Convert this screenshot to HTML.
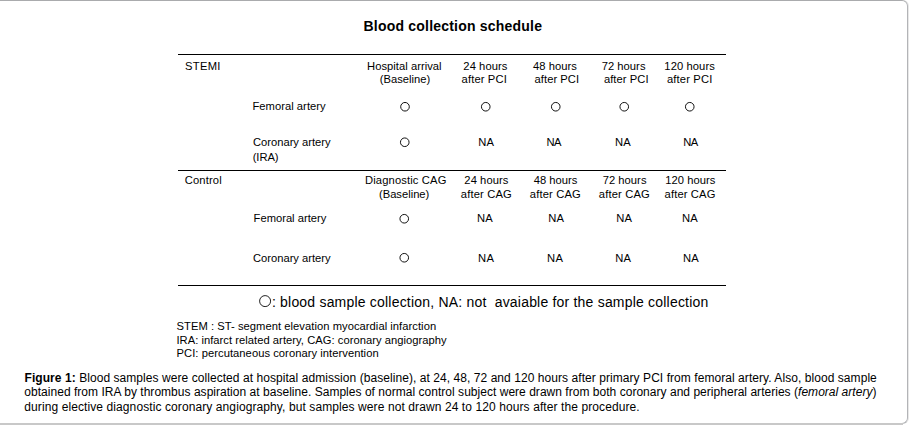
<!DOCTYPE html>
<html><head><meta charset="utf-8"><title>Blood collection schedule</title>
<style>
html,body{margin:0;padding:0;background:#fff;}
body{width:910px;height:426px;overflow:hidden;position:relative;font-family:"Liberation Sans", Arial, Helvetica, sans-serif;color:#000;}
.frame{position:absolute;left:-10px;top:0;width:916px;height:422px;border:1px solid #b3b4b7;border-top-color:#aaabad;border-radius:6px;box-shadow:1px 0 0 #e8e8e8;}
.band{position:absolute;left:0;top:423px;width:903px;height:2px;background:#c8c8c8;}
svg{position:absolute;left:0;top:0;}
svg text{font-family:"Liberation Sans", Arial, Helvetica, sans-serif;font-size:11.2px;fill:#000;}
</style></head><body>
<div class="frame"></div>
<div class="band"></div>
<svg width="910" height="426" viewBox="0 0 910 426">
<g stroke="#000" stroke-width="1" shape-rendering="crispEdges">
<line x1="178" y1="54.5" x2="726" y2="54.5"/>
<line x1="178" y1="170.5" x2="726" y2="170.5"/>
<line x1="178" y1="285.5" x2="726" y2="285.5"/>
</g>
<g fill="none" stroke="#111" stroke-width="1"><circle cx="405" cy="106.75" r="4.3"/><circle cx="485.75" cy="106.75" r="4.3"/><circle cx="555.75" cy="106.75" r="4.3"/><circle cx="624.25" cy="106.75" r="4.3"/><circle cx="689.75" cy="106.75" r="4.3"/><circle cx="404.75" cy="142.25" r="4.3"/><circle cx="404.25" cy="218.75" r="4.3"/><circle cx="404.25" cy="257.75" r="4.3"/>
<circle cx="265.1" cy="301.1" r="5.5" stroke="#222"/></g>
<text x="452.84" y="31" text-anchor="middle" style="font-weight:bold;letter-spacing:0.206px;font-size:14px;">Blood collection schedule</text>
<text x="185.08" y="70" style="letter-spacing:0.271px;">STEMI</text>
<text x="404.35" y="70" text-anchor="middle" style="letter-spacing:0.035px;">Hospital arrival</text>
<text x="405.00" y="83" text-anchor="middle">(Baseline)</text>
<text x="485.40" y="70" text-anchor="middle" style="letter-spacing:0.065px;">24 hours</text>
<text x="484.24" y="83" text-anchor="middle" style="letter-spacing:0.128px;">after PCI</text>
<text x="555.06" y="70" text-anchor="middle" style="letter-spacing:0.052px;">48 hours</text>
<text x="556.86" y="83" text-anchor="middle" style="letter-spacing:0.040px;">after PCI</text>
<text x="623.62" y="70" text-anchor="middle" style="letter-spacing:0.031px;">72 hours</text>
<text x="626.30" y="83" text-anchor="middle" style="letter-spacing:0.068px;">after PCI</text>
<text x="689.63" y="70" text-anchor="middle" style="letter-spacing:0.083px;">120 hours</text>
<text x="689.73" y="83" text-anchor="middle" style="letter-spacing:0.156px;">after PCI</text>
<text x="252.49" y="109.5" style="letter-spacing:0.031px;">Femoral artery</text>
<text x="252.98" y="145.5" style="letter-spacing:-0.006px;">Coronary artery</text>
<text x="252.64" y="160.5" style="letter-spacing:-0.032px;">(IRA)</text>
<text x="486.17" y="146" text-anchor="middle" style="letter-spacing:0.180px;">NA</text>
<text x="553.80" y="146" text-anchor="middle" style="letter-spacing:-0.575px;">NA</text>
<text x="622.90" y="146" text-anchor="middle" style="letter-spacing:0.122px;">NA</text>
<text x="690.57" y="146" text-anchor="middle" style="letter-spacing:-0.575px;">NA</text>
<text x="184.74" y="184" style="letter-spacing:0.144px;">Control</text>
<text x="405.75" y="184" text-anchor="middle" style="letter-spacing:0.144px;">Diagnostic CAG</text>
<text x="404.14" y="197.5" text-anchor="middle" style="letter-spacing:-0.003px;">(Baseline)</text>
<text x="486.40" y="184" text-anchor="middle" style="letter-spacing:0.065px;">24 hours</text>
<text x="486.33" y="197.5" text-anchor="middle" style="letter-spacing:0.145px;">after CAG</text>
<text x="555.47" y="184" text-anchor="middle">48 hours</text>
<text x="555.33" y="197.5" text-anchor="middle" style="letter-spacing:0.145px;">after CAG</text>
<text x="624.62" y="184" text-anchor="middle" style="letter-spacing:0.031px;">72 hours</text>
<text x="624.33" y="197.5" text-anchor="middle" style="letter-spacing:0.145px;">after CAG</text>
<text x="690.27" y="184" text-anchor="middle" style="letter-spacing:0.057px;">120 hours</text>
<text x="690.02" y="197.5" text-anchor="middle" style="letter-spacing:0.129px;">after CAG</text>
<text x="253.58" y="221.5">Femoral artery</text>
<text x="484.90" y="222" text-anchor="middle" style="letter-spacing:0.122px;">NA</text>
<text x="556.17" y="222" text-anchor="middle" style="letter-spacing:0.180px;">NA</text>
<text x="624.17" y="222" text-anchor="middle" style="letter-spacing:0.180px;">NA</text>
<text x="689.90" y="222" text-anchor="middle" style="letter-spacing:0.122px;">NA</text>
<text x="252.98" y="261.5" style="letter-spacing:-0.004px;">Coronary artery</text>
<text x="486.32" y="262" text-anchor="middle" style="letter-spacing:0.425px;">NA</text>
<text x="555.32" y="262" text-anchor="middle" style="letter-spacing:0.425px;">NA</text>
<text x="623.17" y="262" text-anchor="middle" style="letter-spacing:0.180px;">NA</text>
<text x="690.90" y="262" text-anchor="middle" style="letter-spacing:0.122px;">NA</text>
<text x="271.92" y="306.5" style="letter-spacing:0.200px;font-size:14px;" xml:space="preserve" white-space="pre">: blood sample collection, NA: not  avaiable for the sample collection</text>
<text x="176.56" y="330" style="letter-spacing:0.044px;">STEM : ST- segment elevation myocardial infarction</text>
<text x="176.38" y="343.5" style="letter-spacing:0.035px;">IRA: infarct related artery, CAG: coronary angiography</text>
<text x="176.58" y="357" style="letter-spacing:0.048px;">PCI: percutaneous coronary intervention</text>
<text x="24.52" y="381.5" style="letter-spacing:0.060px;font-size:12px;"><tspan style="font-weight:bold">Figure 1:</tspan> Blood samples were collected at hospital admission (baseline), at 24, 48, 72 and 120 hours after primary PCI from femoral artery. Also, blood sample</text>
<text x="24.32" y="396.3" style="letter-spacing:0.028px;font-size:12px;">obtained from IRA by thrombus aspiration at baseline. Samples of normal control subject were drawn from both coronary and peripheral arteries (<tspan style="font-style:italic">femoral artery</tspan>)</text>
<text x="24.32" y="411" style="letter-spacing:0.095px;font-size:12px;">during elective diagnostic coronary angiography, but samples were not drawn 24 to 120 hours after the procedure.</text>
</svg>
</body></html>
